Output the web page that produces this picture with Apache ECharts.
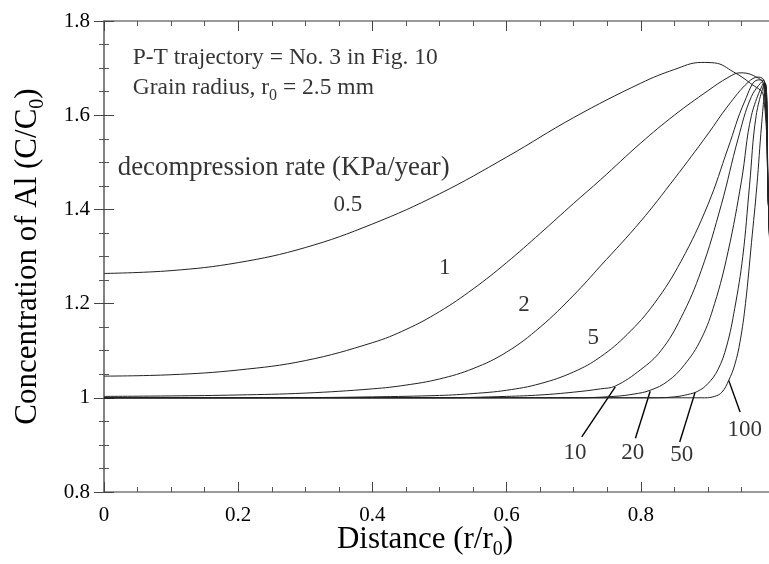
<!DOCTYPE html>
<html>
<head>
<meta charset="utf-8">
<script src="https://cdn.jsdelivr.net/npm/echarts@6/dist/echarts.min.js"></script>
<style>html,body{margin:0;padding:0;background:#fff;}#chart{width:769px;height:564px;}</style>
</head>
<body>
<div id="chart"></div>
<script>
// ---- data (distance r/r0, concentration C/C0) ----
const rateNames = ['0.5', '1', '2', '5', '10', '20', '50', '100'];

const r05 = [0, 0.1, 0.2, 0.3, 0.4, 0.5, 0.6, 0.7, 0.8, 0.85, 0.89, 0.91, 0.938, 0.963, 0.983, 0.99, 1.0];
const c05 = [1.264, 1.270, 1.287, 1.319, 1.369, 1.433, 1.511, 1.595, 1.668, 1.697, 1.712, 1.711, 1.692, 1.668, 1.640, 1.42, 1.0];

const r1 = [0, 0.1, 0.2, 0.3, 0.4, 0.45, 0.5, 0.55, 0.6, 0.65, 0.7, 0.74, 0.8, 0.85, 0.9, 0.93, 0.948, 0.968, 0.983, 0.99, 1.0];
const c1 = [1.046, 1.049, 1.059, 1.079, 1.117, 1.145, 1.183, 1.231, 1.287, 1.349, 1.413, 1.463, 1.541, 1.600, 1.652, 1.680, 1.690, 1.684, 1.664, 1.42, 1.0];

const r2 = [0, 0.1, 0.2, 0.3, 0.4, 0.45, 0.5, 0.55, 0.6, 0.65, 0.7, 0.74, 0.8, 0.85, 0.9, 0.93, 0.96, 0.975, 0.984, 0.99, 1.0];
const c2 = [1.003, 1.004, 1.006, 1.010, 1.019, 1.027, 1.040, 1.062, 1.097, 1.150, 1.218, 1.280, 1.375, 1.465, 1.560, 1.620, 1.670, 1.681, 1.672, 1.42, 1.0];

const r5 = [0, 0.3, 0.4, 0.5, 0.55, 0.6, 0.65, 0.7, 0.74, 0.78, 0.82, 0.86, 0.9, 0.93, 0.955, 0.975, 0.984, 0.99, 1.0];
const c5 = [1.0, 1.0005, 1.002, 1.005, 1.009, 1.016, 1.030, 1.055, 1.087, 1.135, 1.200, 1.290, 1.410, 1.530, 1.630, 1.675, 1.672, 1.42, 1.0];

const r10 = [0, 0.5, 0.6, 0.65, 0.7, 0.74, 0.762, 0.8, 0.83, 0.86, 0.89, 0.92, 0.945, 0.965, 0.983, 0.99, 1.0];
const c10 = [1.0, 1.0, 1.003, 1.006, 1.012, 1.019, 1.025, 1.060, 1.100, 1.170, 1.270, 1.410, 1.550, 1.640, 1.674, 1.42, 1.0];

const r20 = [0, 0.7, 0.76, 0.79, 0.814, 0.84, 0.865, 0.89, 0.91, 0.93, 0.95, 0.965, 0.984, 0.99, 1.0];
const c20 = [1.0, 1.0, 1.003, 1.008, 1.016, 1.035, 1.070, 1.125, 1.200, 1.310, 1.460, 1.600, 1.670, 1.42, 1.0];

const r50 = [0, 0.82, 0.85, 0.87, 0.885, 0.9, 0.915, 0.928, 0.94, 0.952, 0.962, 0.972, 0.985, 0.99, 1.0];
const c50 = [1.0, 1.0, 1.002, 1.007, 1.014, 1.030, 1.060, 1.110, 1.190, 1.300, 1.450, 1.600, 1.668, 1.42, 1.0];

const r100 = [0, 0.895, 0.91, 0.921, 0.931, 0.94, 0.948, 0.956, 0.965, 0.973, 0.98, 0.986, 0.99, 1.0];
const c100 = [1.0, 1.0, 1.003, 1.012, 1.037, 1.070, 1.120, 1.200, 1.330, 1.450, 1.580, 1.666, 1.42, 1.0];

// curve label positions [r, C, text]
const labelPos = [
  [0.3636, 1.409, '0.5'], [0.508, 1.275, '1'], [0.626, 1.197, '2'], [0.729, 1.127, '5'],
  [0.702, 0.882, '10'], [0.788, 0.882, '20'], [0.861, 0.878, '50'], [0.955, 0.931, '100']
];
// leader lines [[r1,C1],[r2,C2]]
const leaders = [
  [[0.762, 1.023], [0.712, 0.917]],
  [[0.814, 1.014], [0.792, 0.914]],
  [[0.881, 1.012], [0.858, 0.906]],
  [[0.931, 1.037], [0.948, 0.970]]
];
// annotations [r, C, text]
const notes = [
  [0.0428, 1.719, '{a|P-T trajectory = No. 3 in Fig. 10}'],
  [0.0428, 1.657, '{a|Grain radius, r}{s|0}{a| = 2.5 mm}'],
  [0.0206, 1.488, '{b|decompression rate (KPa/year)}']
];
const xTicks = {min: 0, max: 1, interval: 0.2};
const yTicks = {min: 0.8, max: 1.8, interval: 0.2};

const rs = [r05, r1, r2, r5, r10, r20, r50, r100];
const cs = [c05, c1, c2, c5, c10, c20, c50, c100];

const FONT = 'Liberation Serif';
const axisCol = '#7a7a7a';

function axisBase(extra) {
  return Object.assign({
    type: 'value',
    axisLine: {show: true, lineStyle: {color: axisCol, width: 1.5}},
    axisTick: {show: true, inside: true, length: 10, lineStyle: {color: '#444', width: 1}},
    minorTick: {show: true, splitNumber: 4, length: 5, lineStyle: {color: '#555', width: 1}},
    splitLine: {show: false},
    minorSplitLine: {show: false}
  }, extra);
}

const series = rs.map((r, i) => ({
  name: rateNames[i],
  type: 'line',
  xAxisIndex: 0, yAxisIndex: 0,
  data: r.map((x, j) => [x, cs[i][j]]),
  showSymbol: false,
  smooth: 0.4,
  lineStyle: {color: '#222', width: 1},
  z: 3,
  silent: true,
  animation: false
}));

series.push({
  type: 'lines',
  coordinateSystem: 'cartesian2d',
  xAxisIndex: 0, yAxisIndex: 0,
  data: leaders.map(l => ({coords: l})),
  lineStyle: {color: '#000', width: 1.4, opacity: 1},
  animation: false, silent: true
});

series.push({
  type: 'scatter',
  xAxisIndex: 0, yAxisIndex: 0,
  data: labelPos.map(p => ({value: [p[0], p[1]], name: p[2]})),
  symbolSize: 0,
  label: {show: true, position: 'inside', formatter: p => p.name, fontFamily: FONT, fontSize: 23, color: '#000'},
  animation: false, silent: true
});

series.push({
  type: 'scatter',
  xAxisIndex: 0, yAxisIndex: 0,
  data: notes.map(p => ({value: [p[0], p[1]], name: p[2]})),
  symbolSize: 0,
  label: {
    show: true, position: 'right', distance: 0, formatter: p => p.name, color: '#000',
    rich: {
      a: {fontFamily: FONT, fontSize: 23.5, color: '#000', lineHeight: 26, verticalAlign: 'top'},
      s: {fontFamily: FONT, fontSize: 16, color: '#000', lineHeight: 16, padding: [12, 0, 0, 0], verticalAlign: 'top'},
      b: {fontFamily: FONT, fontSize: 26.8, color: '#000', lineHeight: 30}
    }
  },
  animation: false, silent: true
});

const chart = echarts.init(document.getElementById('chart'), null, {renderer: 'canvas'});
chart.setOption({
  animation: false,
  backgroundColor: '#fff',
  grid: {left: 104, top: 21, width: 671, height: 471, containLabel: false, outerBoundsMode: 'none'},
  xAxis: [
    axisBase(Object.assign({position: 'bottom',
      axisLabel: {fontFamily: FONT, fontSize: 21, color: '#000', margin: 13}}, xTicks)),
    axisBase(Object.assign({position: 'top', axisLabel: {show: false}}, xTicks))
  ],
  yAxis: [
    axisBase(Object.assign({position: 'left',
      axisLabel: {fontFamily: FONT, fontSize: 21, color: '#000', margin: 14},
      name: '{m|Concentration of Al (C/C}{s|0}{m|)}', nameLocation: 'middle', nameGap: 58,
      nameTextStyle: {rich: {
        m: {fontFamily: FONT, fontSize: 31, color: '#000', lineHeight: 34, verticalAlign: 'top'},
        s: {fontFamily: FONT, fontSize: 20, color: '#000', lineHeight: 20, padding: [16, 0, 0, 0], verticalAlign: 'top'}
      }}}, yTicks)),
    axisBase(Object.assign({position: 'right', axisLabel: {show: false}}, yTicks))
  ],
  graphic: [{
    type: 'text',
    style: {
      x: 425, y: 541, align: 'center', verticalAlign: 'middle',
      text: '{m|Distance (r/r}{s|0}{m|)}',
      rich: {
        m: {fontFamily: FONT, fontSize: 31, fill: '#000', lineHeight: 34, verticalAlign: 'top'},
        s: {fontFamily: FONT, fontSize: 20, fill: '#000', lineHeight: 20, padding: [16, 0, 0, 0], verticalAlign: 'top'}
      }
    }
  }],
  series: series
});
</script>
</body>
</html>
